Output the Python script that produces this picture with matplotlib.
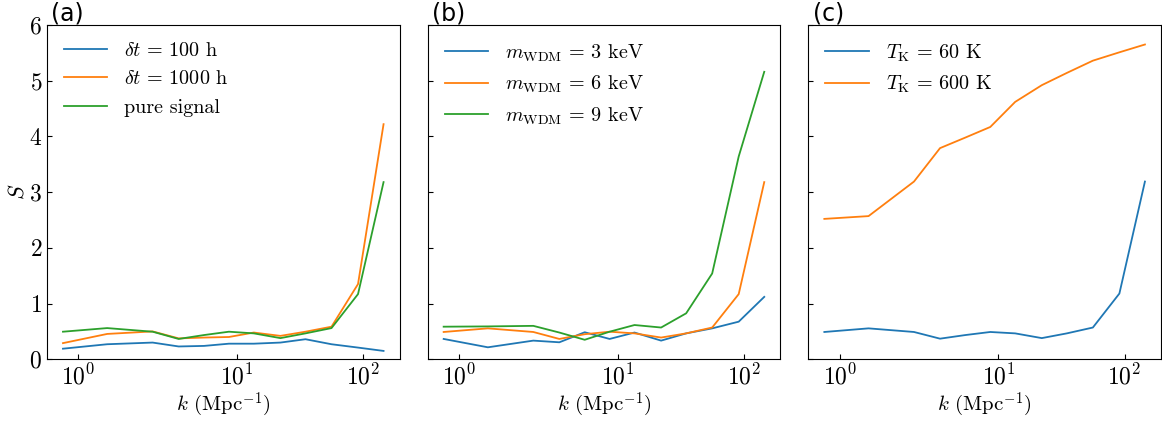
import numpy as np
import matplotlib
matplotlib.use("Agg")
import matplotlib.pyplot as plt
from matplotlib.ticker import LogFormatterMathtext, FixedLocator

# wavenumbers (Mpc^-1)
k = [0.8, 1.52, 2.94, 4.29, 6.2, 8.9, 13.6, 22.1, 34.9, 56.1, 91.0, 145.0]

# (a) integration time
S_100h = [0.19, 0.27, 0.30, 0.23, 0.24, 0.28, 0.28, 0.30, 0.36, 0.27, 0.21, 0.15]
S_1000h = [0.29, 0.455, 0.50, 0.375, 0.39, 0.40, 0.48, 0.42, 0.495, 0.585, 1.35, 4.22]
S_pure = [0.495, 0.56, 0.495, 0.365, 0.435, 0.495, 0.465, 0.38, 0.465, 0.56, 1.17, 3.18]

# (b) WDM mass
S_m3 = [0.365, 0.215, 0.335, 0.305, 0.485, 0.365, 0.48, 0.335, 0.465, 0.555, 0.675, 1.12]
S_m6 = [0.49, 0.555, 0.49, 0.365, 0.45, 0.495, 0.465, 0.39, 0.465, 0.57, 1.17, 3.18]
S_m9 = [0.585, 0.59, 0.60, 0.48, 0.35, 0.495, 0.615, 0.57, 0.825, 1.54, 3.64, 5.16]

# (c) gas temperature
S_T60 = [0.49, 0.555, 0.49, 0.37, 0.435, 0.49, 0.465, 0.38, 0.465, 0.57, 1.18, 3.19]
S_T600 = [2.52, 2.57, 3.19, 3.79, 3.98, 4.17, 4.62, 4.92, 5.14, 5.36, 5.51, 5.65]

panels = [
    ("(a)", [(S_100h, r"$\delta t\,=\,100$ h"),
             (S_1000h, r"$\delta t\,=\,1000$ h"),
             (S_pure, "pure signal")]),
    ("(b)", [(S_m3, r"$m_{\rm WDM}\,=\,3$ keV"),
             (S_m6, r"$m_{\rm WDM}\,=\,6$ keV"),
             (S_m9, r"$m_{\rm WDM}\,=\,9$ keV")]),
    ("(c)", [(S_T60, r"$T_{\rm K}\,=\,60$ K"),
             (S_T600, r"$T_{\rm K}\,=\,600$ K")]),
]

plt.rcParams['font.family'] = 'serif'
plt.rcParams['font.serif'] = ['cmr10']
plt.rcParams['mathtext.fontset'] = 'cm'
plt.rcParams['axes.formatter.use_mathtext'] = True

# the decades on the x axis are not equally wide in the original
r = 1.2565

def fwd(x):
    u = np.log10(np.clip(x, 1e-12, None))
    return np.where(u < 1, u * r, r + (u - 1))

def inv(y):
    u = np.where(y < r, y / r, y - r + 1)
    return 10 ** u

fig, axs = plt.subplots(1, 3, figsize=(11.62, 4.21), dpi=100, sharey=True)

for ax, (tag, series) in zip(axs, panels):
    for vals, lab in series:
        ax.plot(k, vals, lw=1.3, label=lab)
    ax.set_xscale('function', functions=(fwd, inv))
    ax.xaxis.set_major_locator(FixedLocator([1, 10, 100]))
    ax.xaxis.set_major_formatter(LogFormatterMathtext())
    ax.tick_params(direction='in', labelsize=17)
    ax.set_xlabel(r"$k$ (Mpc$^{-1}$)", fontsize=15, labelpad=1)
    ax.legend(loc='upper left', frameon=False, fontsize=14.5,
              handlelength=2.15, handletextpad=0.85, labelspacing=0.5,
              borderaxespad=0.45, borderpad=0.4)
    ax.text(0.012, 1.0, tag, transform=ax.transAxes, ha='left', va='bottom',
            family='DejaVu Sans', fontsize=17)

axs[0].set_ylim(0, 6)
axs[0].set_ylabel(r"$S$", fontsize=16, labelpad=1)

fig.subplots_adjust(left=0.0404, right=0.9991, top=0.9406, bottom=0.1466,
                    wspace=0.0795)
fig.savefig("out.png", dpi=100)
